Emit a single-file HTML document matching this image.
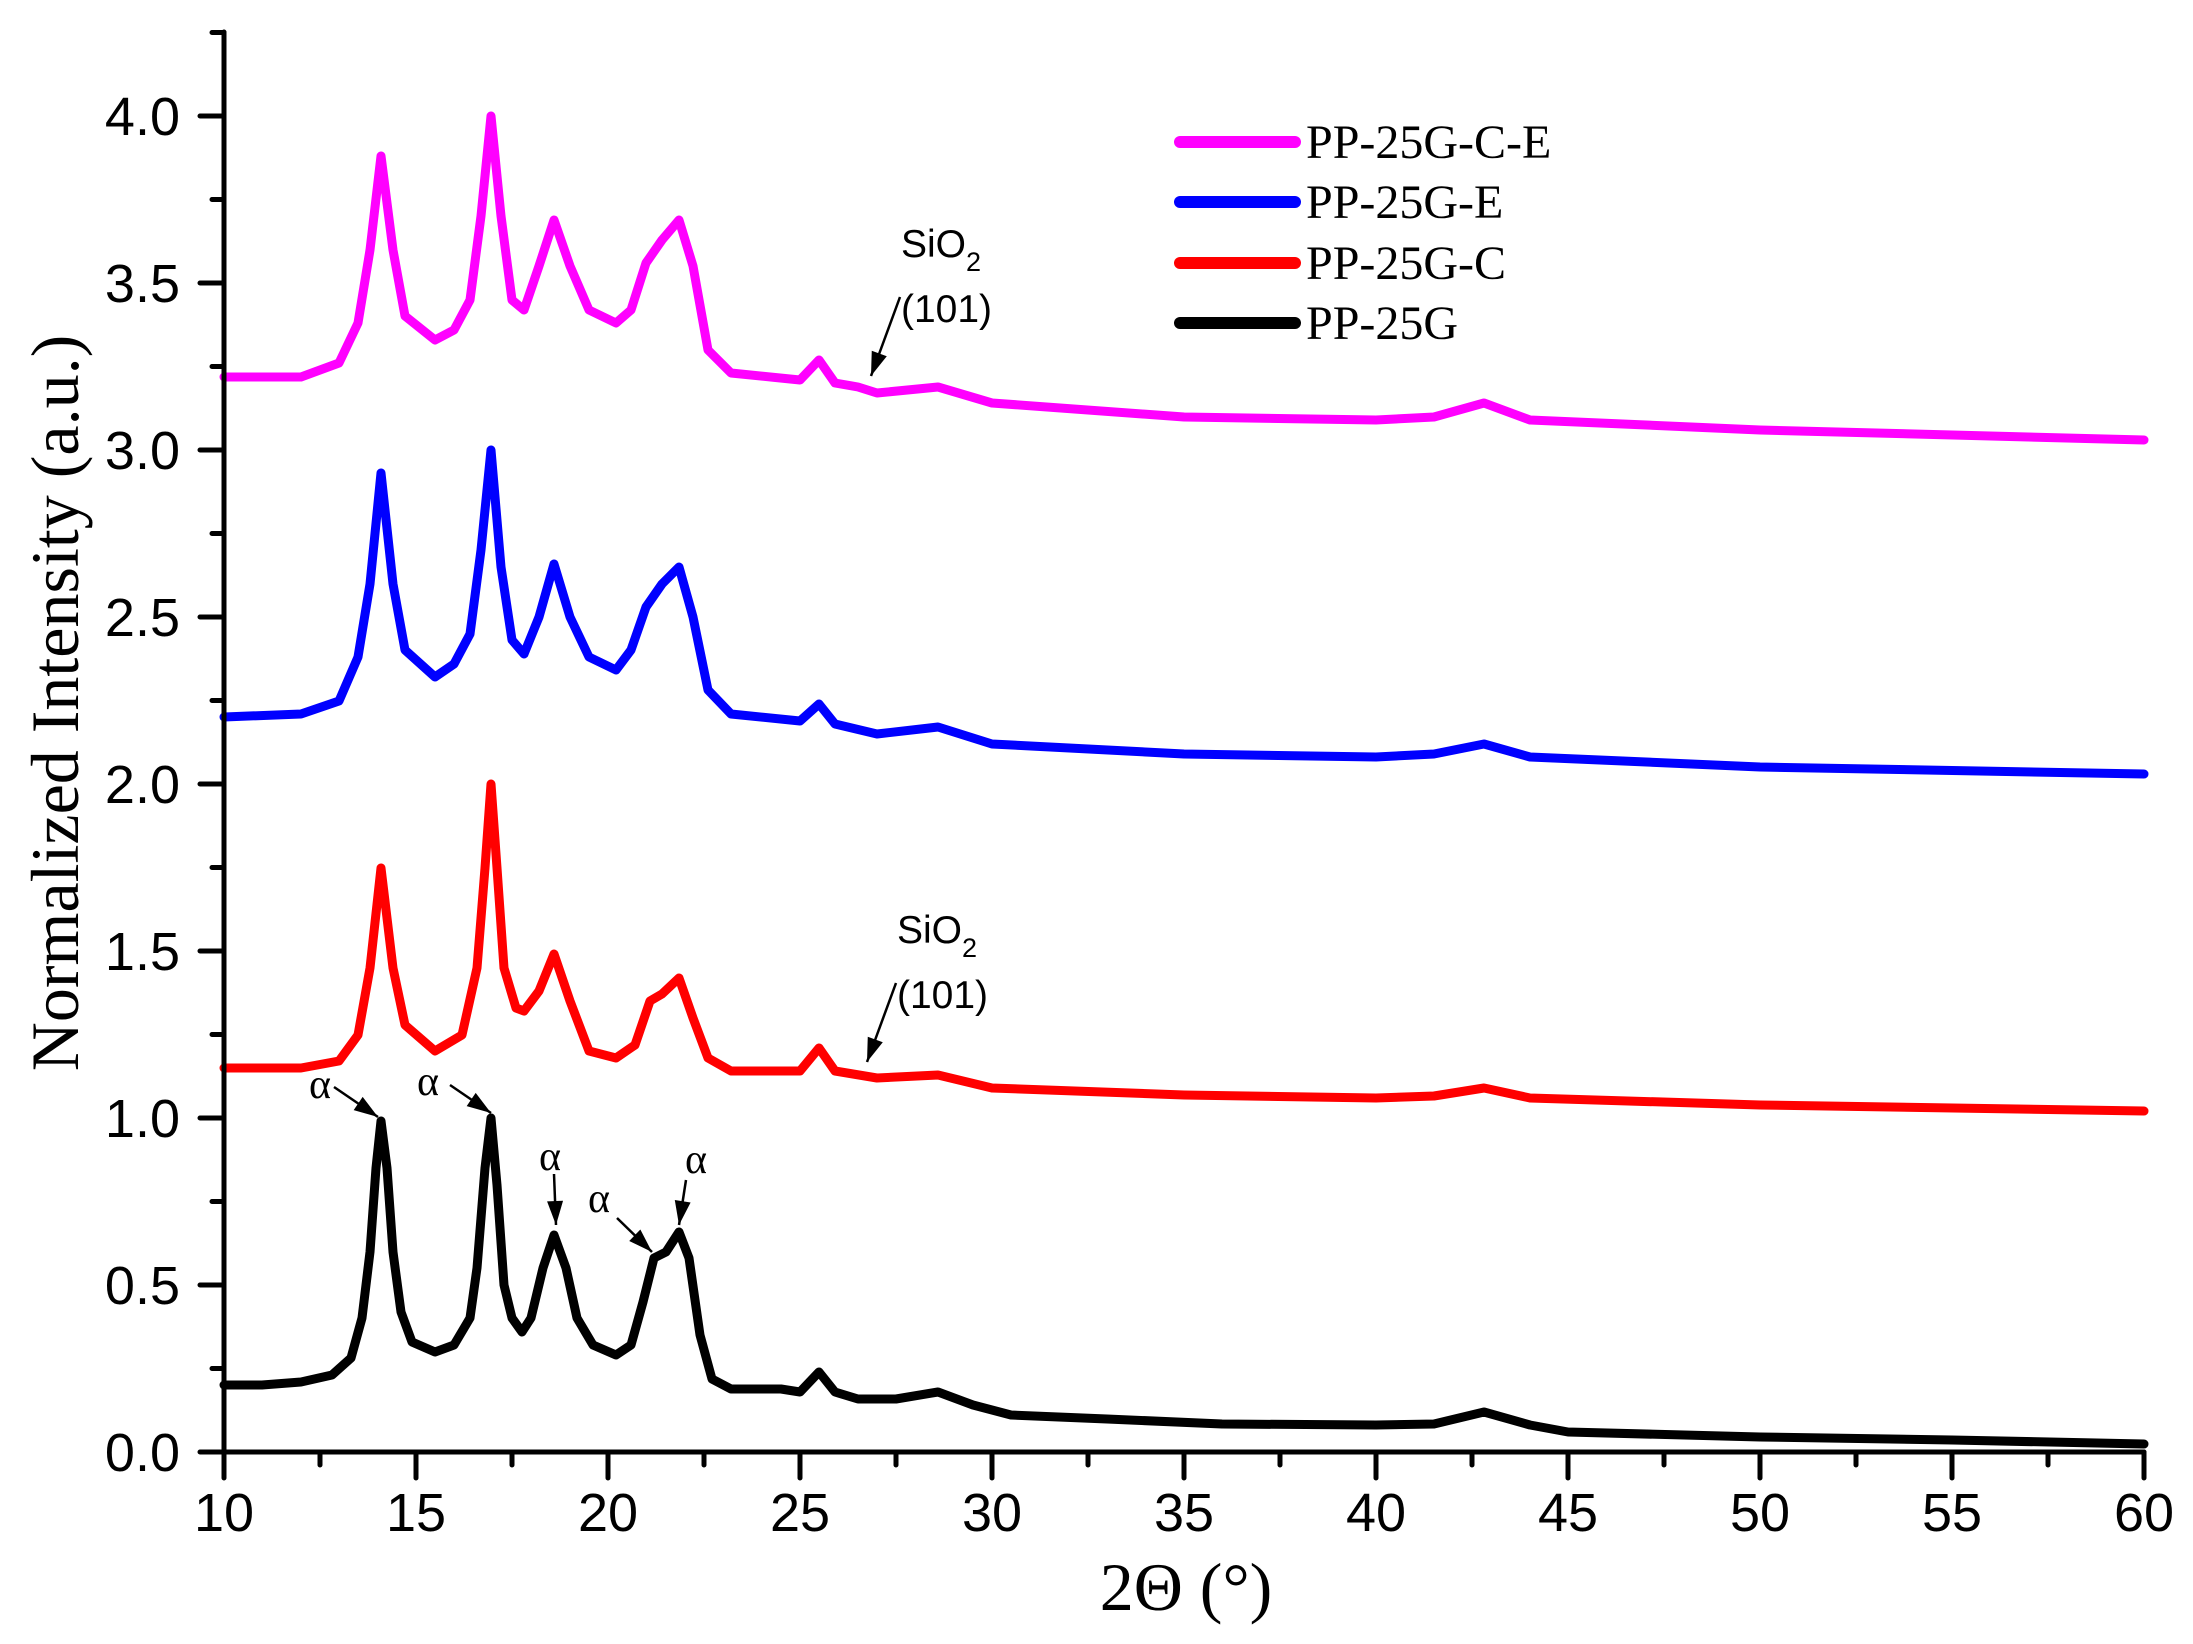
<!DOCTYPE html>
<html><head><meta charset="utf-8"><style>
html,body{margin:0;padding:0;background:#fff;}
svg{display:block;}
.t{font-family:"Liberation Sans",Arial,sans-serif;font-size:54px;fill:#000;}
.tr{font-family:"Liberation Serif","Times New Roman",serif;fill:#000;}
</style></head><body>
<svg width="2193" height="1644" viewBox="0 0 2193 1644" xmlns="http://www.w3.org/2000/svg">
<defs>
<marker id="ah" viewBox="-24 -9 26 18" refX="0" refY="0" markerWidth="26" markerHeight="18" markerUnits="userSpaceOnUse" orient="auto" overflow="visible">
<path d="M-24,-8 L0,0 L-24,8 z" fill="#000"/>
</marker>
</defs>
<g fill="none" stroke-width="9" stroke-linejoin="round" stroke-linecap="round">
<polyline stroke="#ff00ff" points="224,377 301,377 339,363 358,323 370,250 381,156 393,250 405,316 435,340 454,330 470,300 481,216 491,116 501,216 512,300 524,310 539,266 554,220 570,266 589,310 616,323 631,310 646,263 662,240 679,220 693,266 708,350 731,373 800,380 819,360 835,383 858,387 877,393 938,387 992,403 1184,417 1376,420 1434,417 1484,403 1530,420 1760,430 2144,440"/>
<polyline stroke="#0000ff" points="224,717 301,714 339,701 358,657 370,584 381,473 393,584 405,650 435,677 454,664 470,634 481,550 491,450 501,567 512,640 524,654 539,617 554,564 570,617 589,657 616,670 631,650 646,607 662,584 679,567 693,617 708,690 731,714 800,721 819,704 835,724 877,734 938,727 992,744 1184,754 1376,757 1434,754 1484,744 1530,757 1760,767 2144,774"/>
<polyline stroke="#ff0000" points="224,1068 301,1068 339,1061 358,1035 370,968 381,868 393,968 405,1025 435,1051 462,1035 477,968 485,868 491,784 497,868 504,968 516,1008 524,1011 539,991 554,954 570,1001 589,1051 616,1058 635,1045 650,1001 662,994 679,978 693,1018 708,1058 731,1071 800,1071 819,1048 835,1071 877,1078 938,1075 992,1088 1184,1095 1376,1098 1434,1096 1484,1088 1530,1098 1760,1105 2144,1111"/>
<polyline stroke="#000" points="224,1385 262,1385 301,1382 332,1375 351,1358 362,1318 370,1252 376,1168 381,1121 387,1168 393,1252 401,1312 412,1342 435,1352 454,1345 470,1318 477,1268 485,1168 491,1118 497,1185 504,1285 512,1318 522,1332 531,1318 543,1268 554,1235 566,1268 577,1318 593,1345 616,1355 631,1345 643,1302 654,1258 666,1252 679,1232 689,1258 700,1335 712,1379 731,1389 762,1389 781,1389 800,1392 819,1372 835,1392 858,1399 896,1399 938,1392 973,1405 1011,1415 1107,1419 1222,1424 1376,1425 1434,1424 1484,1412 1530,1425 1568,1432 1760,1437 1952,1440 2144,1444"/>
</g>
<g stroke="#000" stroke-width="5" stroke-linecap="round" fill="none">
<polyline points="224,32 224,1452 2144,1452"/>
<path d="M224,1452v26M416,1452v26M608,1452v26M800,1452v26M992,1452v26M1184,1452v26M1376,1452v26M1568,1452v26M1760,1452v26M1952,1452v26M2144,1452v26
M320,1452v13M512,1452v13M704,1452v13M896,1452v13M1088,1452v13M1280,1452v13M1472,1452v13M1664,1452v13M1856,1452v13M2048,1452v13
M224,1452h-24M224,1285h-24M224,1118h-24M224,951h-24M224,784h-24M224,617h-24M224,450h-24M224,283h-24M224,116h-24
M224,1368.5h-12M224,1201.5h-12M224,1034.5h-12M224,867.5h-12M224,700.5h-12M224,533.5h-12M224,366.5h-12M224,199.5h-12M224,32.5h-12"/>
</g>
<g class="t" text-anchor="middle">
<text x="224" y="1531">10</text><text x="416" y="1531">15</text><text x="608" y="1531">20</text><text x="800" y="1531">25</text><text x="992" y="1531">30</text><text x="1184" y="1531">35</text><text x="1376" y="1531">40</text><text x="1568" y="1531">45</text><text x="1760" y="1531">50</text><text x="1952" y="1531">55</text><text x="2144" y="1531">60</text>
</g>
<g class="t" text-anchor="end">
<text x="180" y="1471">0.0</text><text x="180" y="1304">0.5</text><text x="180" y="1137">1.0</text><text x="180" y="970">1.5</text><text x="180" y="803">2.0</text><text x="180" y="636">2.5</text><text x="180" y="469">3.0</text><text x="180" y="302">3.5</text><text x="180" y="135">4.0</text>
</g>
<g stroke-width="12" stroke-linecap="round">
<line x1="1180" y1="142" x2="1295" y2="142" stroke="#ff00ff"/>
<line x1="1180" y1="202" x2="1295" y2="202" stroke="#0000ff"/>
<line x1="1180" y1="263" x2="1295" y2="263" stroke="#ff0000"/>
<line x1="1180" y1="323" x2="1295" y2="323" stroke="#000"/>
</g>
<g class="tr" font-size="48">
<text x="1306" y="158">PP-25G-C-E</text>
<text x="1306" y="218">PP-25G-E</text>
<text x="1306" y="279">PP-25G-C</text>
<text x="1306" y="339">PP-25G</text>
</g>
<text class="tr" font-size="68" x="1186" y="1610" text-anchor="middle">2Θ (°)</text>
<text class="tr" font-size="68" transform="translate(78,703) rotate(-90)" text-anchor="middle">Normalized Intensity (a.u.)</text>
<g class="tr" font-size="42" text-anchor="middle">
<text x="320" y="1098">α</text>
<text x="428" y="1095">α</text>
<text x="550" y="1170">α</text>
<text x="599" y="1212">α</text>
<text x="696" y="1173">α</text>
</g>
<g stroke="#000" stroke-width="2.5" marker-end="url(#ah)">
<line x1="334" y1="1087" x2="378" y2="1117"/>
<line x1="450" y1="1085" x2="491" y2="1113"/>
<line x1="554" y1="1174" x2="556" y2="1225"/>
<line x1="617" y1="1218" x2="652" y2="1252"/>
<line x1="686" y1="1180" x2="679" y2="1225"/>
<line x1="900" y1="297" x2="871" y2="376"/>
<line x1="896" y1="983" x2="867" y2="1062"/>
</g>
<g font-family="Liberation Sans,Arial,sans-serif" fill="#000">
<text x="901" y="257" font-size="39">SiO<tspan font-size="27" dy="14">2</tspan></text>
<text x="901" y="322" font-size="39">(101)</text>
<text x="897" y="943" font-size="39">SiO<tspan font-size="27" dy="14">2</tspan></text>
<text x="897" y="1008" font-size="39">(101)</text>
</g>
</svg>
</body></html>
